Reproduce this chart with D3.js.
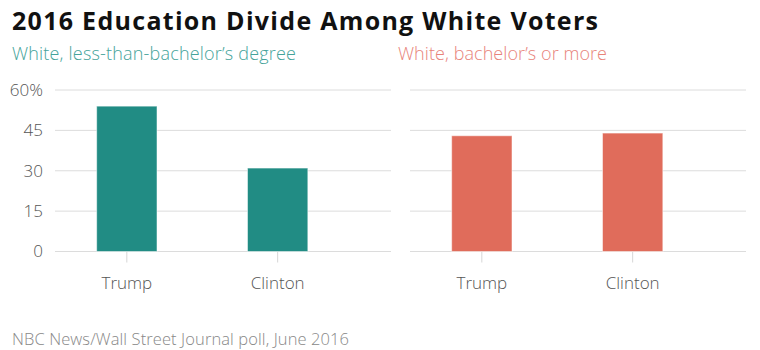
<!DOCTYPE html>
<html><head><meta charset="utf-8">
<script src="https://cdn.jsdelivr.net/npm/d3@7"></script>
<style>
body{margin:0;background:#fff;}
text{font-family:"Open Sans",Lato,sans-serif;}
</style></head>
<body><svg id="c" width="760" height="350"></svg>
<script>
const categories = ["Trump", "Clinton"];
const lessThanBachelor = [54, 31];
const bachelorOrMore = [43, 44];
const yTicks = [0, 15, 30, 45, 60];
const panels = [
  {label: "White, less-than-bachelor’s degree", values: lessThanBachelor, color: "#218c84", labelColor: "#45a39a", showAxis: true},
  {label: "White, bachelor’s or more", values: bachelorOrMore, color: "#e06c5b", labelColor: "#e8837a", showAxis: false}
];

const svg = d3.select("#c");
svg.append("text").attr("x", 12).attr("y", 30).attr("font-size", 25).attr("font-weight", 700)
  .attr("fill", "#111").attr("textLength", 586).attr("lengthAdjust", "spacing")
  .text("2016 Education Divide Among White Voters");
svg.append("text").attr("x", 12).attr("y", 345).attr("font-size", 16.5).attr("font-weight", 300)
  .attr("fill", "#888").attr("textLength", 337).attr("lengthAdjust", "spacing")
  .text("NBC News/Wall Street Journal poll, June 2016");

const y = d3.scaleLinear().domain([0, 60]).range([251.5, 90]);
const panelX = [[55, 391], [410, 746]];
const labelX = [12, 398];
const labelW = [284, 209];

panels.forEach((p, i) => {
  const [x0, x1] = panelX[i];
  const g = svg.append("g");
  g.append("text").attr("x", labelX[i]).attr("y", 60).attr("font-size", 18).attr("font-weight", 300)
    .attr("fill", p.labelColor).attr("textLength", labelW[i]).attr("lengthAdjust", "spacing").text(p.label);
  const x = d3.scaleBand().domain(categories).range([x0 + 11.5, x0 + 283]).paddingInner(0.6).paddingOuter(0.2);
  g.selectAll("line.grid").data(yTicks).join("line").attr("class", "grid")
    .attr("x1", x0).attr("x2", x1).attr("y1", d => y(d)).attr("y2", d => y(d))
    .attr("stroke", "#dcdcdc").attr("stroke-width", 1);
  if (p.showAxis) {
    g.selectAll("text.yt").data(yTicks).join("text").attr("class", "yt")
      .attr("x", 43).attr("y", d => y(d)).attr("dy", "0.35em").attr("text-anchor", "end")
      .attr("font-size", 17).attr("font-weight", 300).attr("fill", "#555")
      .text(d => d === 60 ? d + "%" : d);
  }
  g.selectAll("line.xt").data(categories).join("line").attr("class", "xt")
    .attr("x1", d => x(d) + x.bandwidth() / 2).attr("x2", d => x(d) + x.bandwidth() / 2)
    .attr("y1", y(0)).attr("y2", y(0) + 11).attr("stroke", "#d6d6d6");
  g.selectAll("rect").data(p.values).join("rect")
    .attr("x", (d, j) => x(categories[j])).attr("width", x.bandwidth())
    .attr("y", d => y(d)).attr("height", d => y(0) - y(d))
    .attr("fill", p.color).attr("stroke", "#fff").attr("stroke-opacity", 0.5).attr("stroke-width", 1);
  g.selectAll("text.xl").data(categories).join("text").attr("class", "xl")
    .attr("x", d => x(d) + x.bandwidth() / 2).attr("y", 289).attr("text-anchor", "middle")
    .attr("font-size", 17).attr("font-weight", 300).attr("fill", "#555").text(d => d);
});
</script></body></html>
